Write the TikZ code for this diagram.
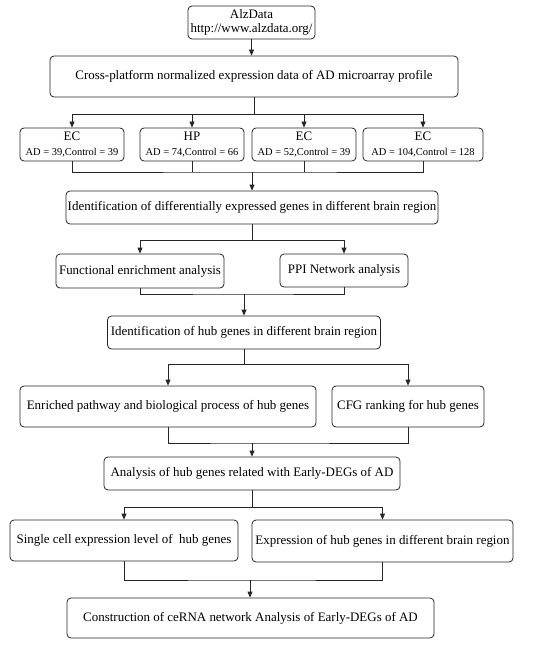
\documentclass[tikz,border=0pt]{standalone}
\usepackage{fontspec}
\setmainfont{Liberation Serif}
\usetikzlibrary{arrows.meta}
\begin{document}
\begin{tikzpicture}[x=1bp,y=-1bp,
  box/.style={draw=black!85, line width=0.8bp, rounded corners=4bp, inner sep=0pt, align=center, font=\fontsize{13}{14.5}\selectfont},
  small/.style={font=\fontsize{10.5}{12}\selectfont},
  ln/.style={draw=black!85, line width=0.8bp},
  arr/.style={ln, -{Triangle[length=6bp,width=5bp]}}]
\useasboundingbox (0,0) rectangle (537,649);
\node[box, minimum width=127bp, minimum height=33bp] (alz) at (251.5,22.5) {AlzData\\http://www.alzdata.org/};
\node[box, minimum width=408bp, minimum height=41bp] (cross) at (254,76.5) {Cross-platform normalized expression data of AD microarray profile};
\node[box, minimum width=104bp, minimum height=33bp] (ec1) at (72,144.5) {EC\\{\fontsize{10.5}{12}\selectfont AD = 39,Control = 39}};
\node[box, minimum width=104bp, minimum height=33bp] (hp) at (192,144.5) {HP\\{\fontsize{10.5}{12}\selectfont AD = 74,Control = 66}};
\node[box, minimum width=104bp, minimum height=33bp] (ec2) at (304,144.5) {EC\\{\fontsize{10.5}{12}\selectfont AD = 52,Control = 39}};
\node[box, minimum width=120bp, minimum height=33bp] (ec3) at (423,144.5) {EC\\{\fontsize{10.5}{12}\selectfont AD = 104,Control = 128}};
\node[box, minimum width=372bp, minimum height=33bp] (deg) at (252,207.5) {Identification of differentially expressed genes in different brain region};
\node[box, minimum width=168bp, minimum height=34bp] (func) at (140,271) {Functional enrichment analysis};
\node[box, minimum width=128bp, minimum height=33bp] (ppi) at (344,270.5) {PPI Network analysis};
\node[box, minimum width=273bp, minimum height=33bp] (hub) at (244,332.5) {Identification of hub genes in different brain region};
\node[box, minimum width=296bp, minimum height=41bp] (enr) at (168,406.5) {Enriched pathway and biological process of hub genes};
\node[box, minimum width=152bp, minimum height=41bp] (cfg) at (408,406.5) {CFG ranking for hub genes};
\node[box, minimum width=296bp, minimum height=33bp] (ana) at (252,473.5) {Analysis of hub genes related with Early-DEGs of AD};
\node[box, minimum width=228bp, minimum height=41bp] (sc) at (124,540.5) {Single cell expression level of~ hub genes};
\node[box, minimum width=261bp, minimum height=42bp] (expr) at (382.5,541) {Expression of hub genes in different brain region};
\node[box, minimum width=367bp, minimum height=40bp] (con) at (250.5,618) {Construction of ceRNA network Analysis of Early-DEGs of AD};
% connectors
\draw[arr] (alz.south) -- (alz.south |- cross.north);
\coordinate (j1) at (254,114);
\draw[ln] (cross.south) -- (j1);
\draw[arr] (j1) -| (ec1.north);
\draw[arr] (j1) -| (ec3.north);
\draw[arr] (hp.north |- j1) -- (hp.north);
\draw[arr] (ec2.north |- j1) -- (ec2.north);
\coordinate (j2) at (252,172);
\draw[ln] (ec1.south) |- (j2) -| (ec3.south);
\draw[ln] (hp.south) -- (hp.south |- j2);
\draw[ln] (ec2.south) -- (ec2.south |- j2);
\draw[arr] (j2) -- (j2 |- deg.north);
\coordinate (j3) at (252,240);
\draw[ln] (deg.south) -- (j3);
\draw[arr] (j3) -| (func.north);
\draw[arr] (j3) -| (ppi.north);
\coordinate (j4) at (244,294);
\draw[ln] (func.south) |- (j4) -| (ppi.south);
\draw[arr] (j4) -- (hub.north);
\coordinate (j5) at (244,364);
\draw[ln] (hub.south) -- (j5);
\draw[arr] (j5) -| (enr.north);
\draw[arr] (j5) -| (cfg.north);
\coordinate (j6) at (252,443);
\draw[ln] (enr.south) |- (j6) -| (cfg.south);
\draw[arr] (j6) -- (ana.north);
\coordinate (j7) at (252,507);
\draw[ln] (ana.south) -- (j7);
\draw[arr] (j7) -| (sc.north);
\draw[arr] (j7) -| (expr.north);
\coordinate (j8) at (250,580);
\draw[ln] (sc.south) |- (j8) -| (expr.south);
\draw[arr] (j8) -- (j8 |- con.north);
\end{tikzpicture}
\end{document}
